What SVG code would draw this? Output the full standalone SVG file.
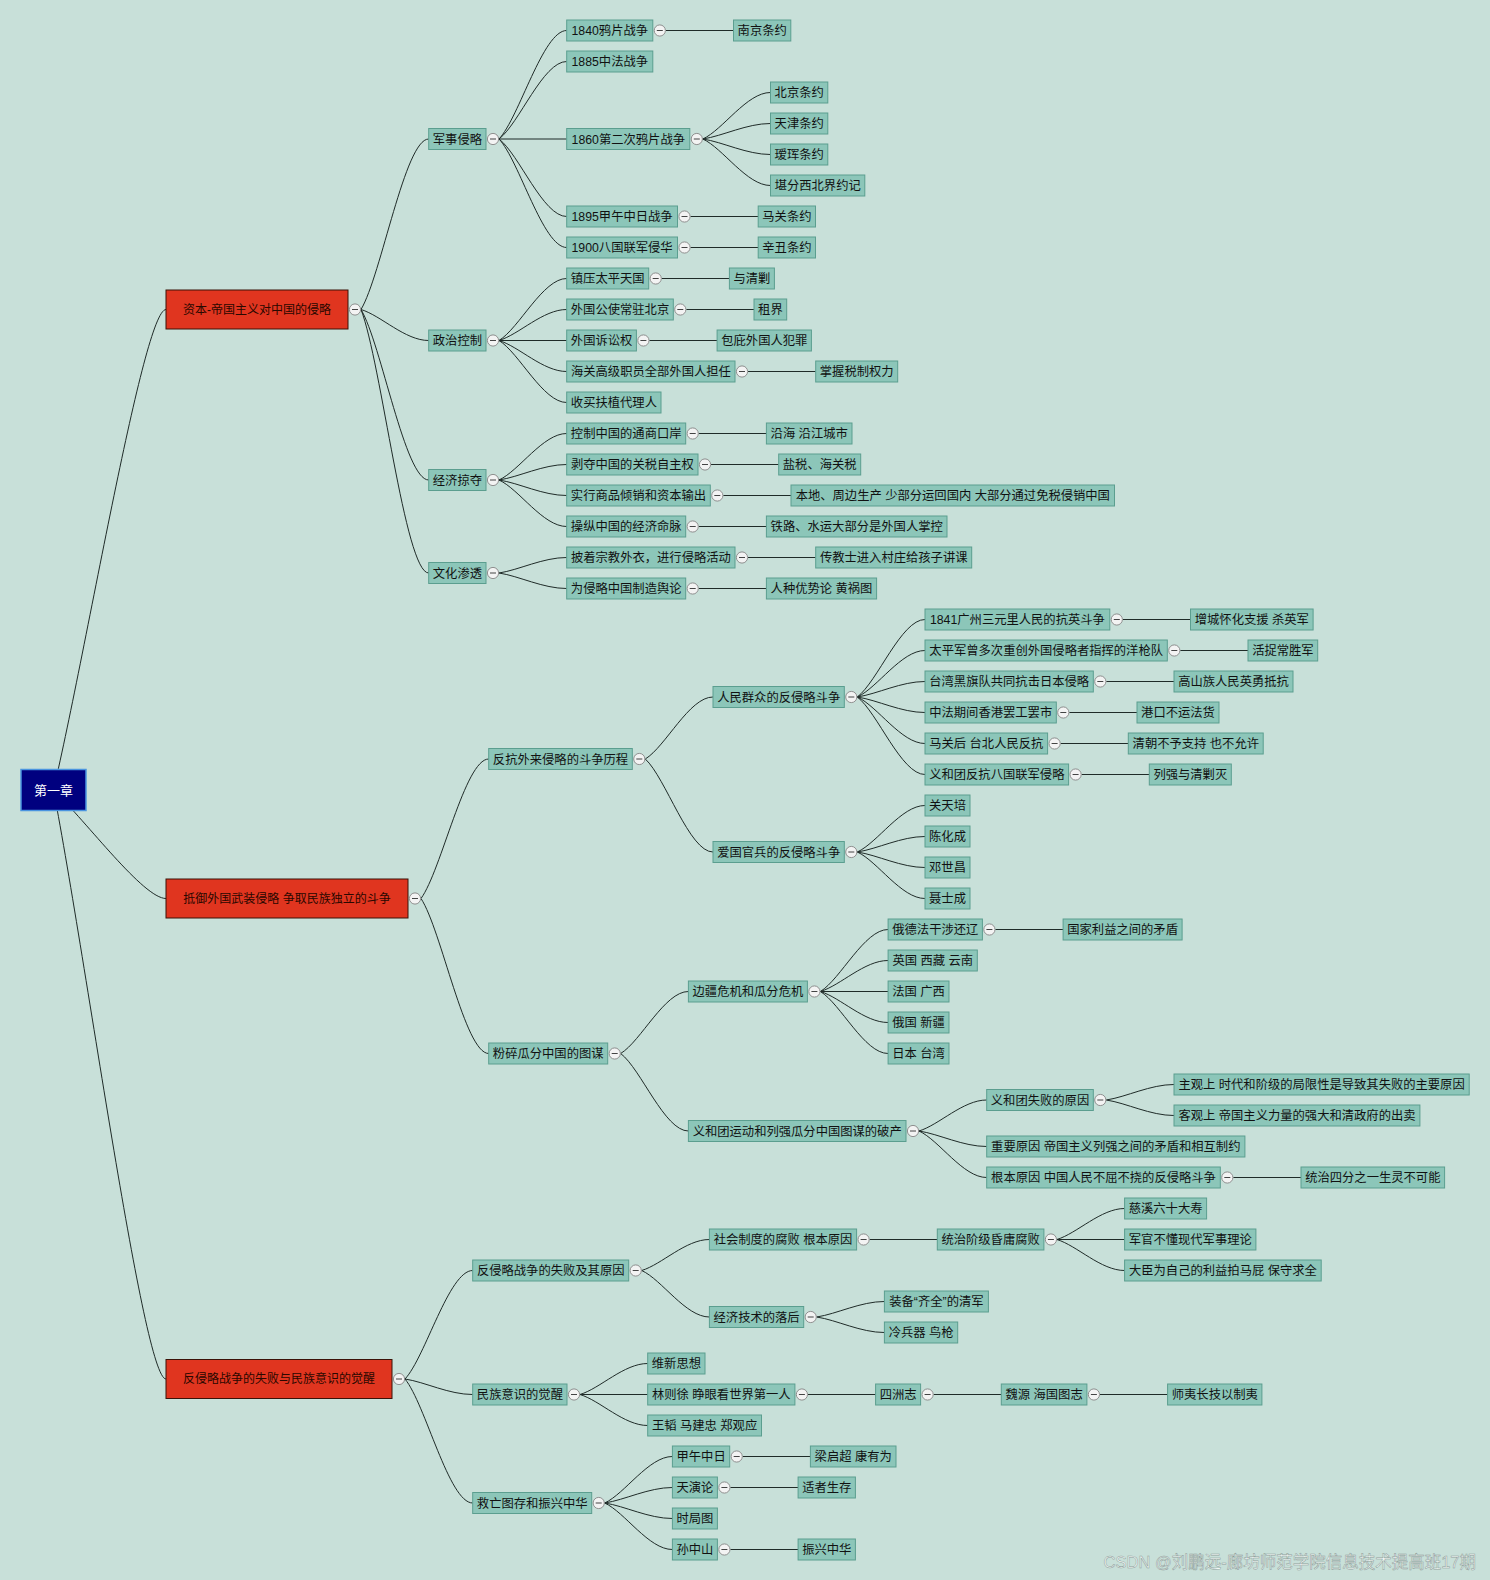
<svg xmlns="http://www.w3.org/2000/svg" xmlns:xlink="http://www.w3.org/1999/xlink" width="1490" height="1580" viewBox="0 0 1490 1580">
<style>
text{font-family:"Liberation Sans","Noto Sans CJK SC",sans-serif}
.nd rect{fill:#8cc6b9;stroke:#5b9e8f;stroke-width:1}
.nd text{font-size:12.3px;fill:#111;text-anchor:middle}
.mn rect{fill:#e0351f;stroke:#3b1208;stroke-width:1}
.mn text{font-size:12px;fill:#2a0800;text-anchor:middle}
.cn path{fill:none;stroke:#1f2b28;stroke-width:1}
</style>
<defs>
<g id="col"><circle r="5.6" fill="#f3f3f3" stroke="#8f8f8f" stroke-width="1"/><path d="M-3 0H3" stroke="#444" stroke-width="1"/></g>
</defs>
<rect width="1490" height="1580" fill="#c8e0d9"/>
<g id="connectors" class="cn">
<path d="M53.5,790 C87.3,645.8 143.5,309.5 166,309.5"/>
<path d="M53.5,790 C87.3,822.6 143.5,898.5 166,898.5"/>
<path d="M53.5,790 C87.3,966.7 143.5,1379 166,1379"/>
<path d="M361,309.5 C381.3,275.4 405,139 428.7,139"/>
<path d="M361,309.5 C381.3,315.7 405,340.5 428.7,340.5"/>
<path d="M361,309.5 C381.3,343.6 405,480 428.7,480"/>
<path d="M361,309.5 C381.3,362.2 405,573 428.7,573"/>
<path d="M499,139 C519.3,117.3 543,30.5 566.7,30.5"/>
<path d="M499,139 C519.3,123.5 543,61.5 566.7,61.5"/>
<path d="M499,139 H566.7"/>
<path d="M499,139 C519.3,154.5 543,216.5 566.7,216.5"/>
<path d="M499,139 C519.3,160.7 543,247.5 566.7,247.5"/>
<path d="M665.8,30.5 H733.5"/>
<path d="M702.8,139 C723.1,129.7 746.8,92.5 770.5,92.5"/>
<path d="M702.8,139 C723.1,135.9 746.8,123.5 770.5,123.5"/>
<path d="M702.8,139 C723.1,142.1 746.8,154.5 770.5,154.5"/>
<path d="M702.8,139 C723.1,148.3 746.8,185.5 770.5,185.5"/>
<path d="M690.5,216.5 H758.2"/>
<path d="M690.5,247.5 H758.2"/>
<path d="M499,340.5 C519.3,328.1 543,278.5 566.7,278.5"/>
<path d="M499,340.5 C519.3,334.3 543,309.5 566.7,309.5"/>
<path d="M499,340.5 H566.7"/>
<path d="M499,340.5 C519.3,346.7 543,371.5 566.7,371.5"/>
<path d="M499,340.5 C519.3,352.9 543,402.5 566.7,402.5"/>
<path d="M661.7,278.5 H729.4"/>
<path d="M686.3,309.5 H754"/>
<path d="M649.4,340.5 H717.1"/>
<path d="M748,371.5 H815.7"/>
<path d="M499,480 C519.3,470.7 543,433.5 566.7,433.5"/>
<path d="M499,480 C519.3,476.9 543,464.5 566.7,464.5"/>
<path d="M499,480 C519.3,483.1 543,495.5 566.7,495.5"/>
<path d="M499,480 C519.3,489.3 543,526.5 566.7,526.5"/>
<path d="M698.7,433.5 H766.4"/>
<path d="M711,464.5 H778.7"/>
<path d="M723.3,495.5 H791"/>
<path d="M698.7,526.5 H766.4"/>
<path d="M499,573 C519.3,569.9 543,557.5 566.7,557.5"/>
<path d="M499,573 C519.3,576.1 543,588.5 566.7,588.5"/>
<path d="M748,557.5 H815.7"/>
<path d="M698.7,588.5 H766.4"/>
<path d="M421,898.5 C441.3,870.6 465,759 488.7,759"/>
<path d="M421,898.5 C441.3,929.5 465,1053.5 488.7,1053.5"/>
<path d="M645.3,759 C665.6,746.6 689.3,697 713,697"/>
<path d="M645.3,759 C665.6,777.6 689.3,852 713,852"/>
<path d="M857.3,697 C877.6,681.5 901.3,619.5 925,619.5"/>
<path d="M857.3,697 C877.6,687.7 901.3,650.5 925,650.5"/>
<path d="M857.3,697 C877.6,693.9 901.3,681.5 925,681.5"/>
<path d="M857.3,697 C877.6,700.1 901.3,712.5 925,712.5"/>
<path d="M857.3,697 C877.6,706.3 901.3,743.5 925,743.5"/>
<path d="M857.3,697 C877.6,712.5 901.3,774.5 925,774.5"/>
<path d="M1122.8,619.5 H1190.5"/>
<path d="M1180.3,650.5 H1248"/>
<path d="M1106.3,681.5 H1174"/>
<path d="M1069.3,712.5 H1137"/>
<path d="M1060.6,743.5 H1128.3"/>
<path d="M1081.6,774.5 H1149.3"/>
<path d="M857.3,852 C877.6,842.7 901.3,805.5 925,805.5"/>
<path d="M857.3,852 C877.6,848.9 901.3,836.5 925,836.5"/>
<path d="M857.3,852 C877.6,855.1 901.3,867.5 925,867.5"/>
<path d="M857.3,852 C877.6,861.3 901.3,898.5 925,898.5"/>
<path d="M620.7,1053.5 C641,1041.1 664.7,991.5 688.4,991.5"/>
<path d="M620.7,1053.5 C641,1069 664.7,1131 688.4,1131"/>
<path d="M820.4,991.5 C840.7,979.1 864.4,929.5 888.1,929.5"/>
<path d="M820.4,991.5 C840.7,985.3 864.4,960.5 888.1,960.5"/>
<path d="M820.4,991.5 H888.1"/>
<path d="M820.4,991.5 C840.7,997.7 864.4,1022.5 888.1,1022.5"/>
<path d="M820.4,991.5 C840.7,1003.9 864.4,1053.5 888.1,1053.5"/>
<path d="M995.4,929.5 H1063.1"/>
<path d="M919,1131 C939.3,1124.8 963,1100 986.7,1100"/>
<path d="M919,1131 C939.3,1134.1 963,1146.5 986.7,1146.5"/>
<path d="M919,1131 C939.3,1140.3 963,1177.5 986.7,1177.5"/>
<path d="M1106.3,1100 C1126.6,1096.9 1150.3,1084.5 1174,1084.5"/>
<path d="M1106.3,1100 C1126.6,1103.1 1150.3,1115.5 1174,1115.5"/>
<path d="M1233.3,1177.5 H1301"/>
<path d="M405,1379 C425.3,1357.3 449,1270.5 472.7,1270.5"/>
<path d="M405,1379 C425.3,1382.1 449,1394.5 472.7,1394.5"/>
<path d="M405,1379 C425.3,1403.8 449,1503 472.7,1503"/>
<path d="M641.7,1270.5 C662,1264.3 685.7,1239.5 709.4,1239.5"/>
<path d="M641.7,1270.5 C662,1279.8 685.7,1317 709.4,1317"/>
<path d="M869.6,1239.5 H937.3"/>
<path d="M1056.9,1239.5 C1077.2,1233.3 1100.9,1208.5 1124.6,1208.5"/>
<path d="M1056.9,1239.5 H1124.6"/>
<path d="M1056.9,1239.5 C1077.2,1245.7 1100.9,1270.5 1124.6,1270.5"/>
<path d="M816.7,1317 C837,1313.9 860.7,1301.5 884.4,1301.5"/>
<path d="M816.7,1317 C837,1320.1 860.7,1332.5 884.4,1332.5"/>
<path d="M580,1394.5 C600.3,1388.3 624,1363.5 647.7,1363.5"/>
<path d="M580,1394.5 H647.7"/>
<path d="M580,1394.5 C600.3,1400.7 624,1425.5 647.7,1425.5"/>
<path d="M807.9,1394.5 H875.6"/>
<path d="M933.6,1394.5 H1001.3"/>
<path d="M1099.9,1394.5 H1167.6"/>
<path d="M604.7,1503 C625,1493.7 648.7,1456.5 672.4,1456.5"/>
<path d="M604.7,1503 C625,1499.9 648.7,1487.5 672.4,1487.5"/>
<path d="M604.7,1503 C625,1506.1 648.7,1518.5 672.4,1518.5"/>
<path d="M604.7,1503 C625,1512.3 648.7,1549.5 672.4,1549.5"/>
<path d="M742.7,1456.5 H810.4"/>
<path d="M730.4,1487.5 H798.1"/>
<path d="M730.4,1549.5 H798.1"/>
</g>
<g id="root"><rect x="21" y="769.5" width="65" height="41" fill="#00007f" stroke="#4a94e0" stroke-width="1.5"/><text x="53.5" y="794.5" font-size="13" fill="#fff" text-anchor="middle">第一章</text></g>
<g id="main1" class="mn"><rect x="166" y="290" width="182" height="39"/><text x="257" y="313.8">资本-帝国主义对中国的侵略</text><use href="#col" x="355" y="309.5"/></g>
<g id="main2" class="mn"><rect x="166" y="879" width="242" height="39"/><text x="287" y="902.8">抵御外国武装侵略 争取民族独立的斗争</text><use href="#col" x="415" y="898.5"/></g>
<g id="main3" class="mn"><rect x="166" y="1359.5" width="226" height="39"/><text x="279" y="1383.3">反侵略战争的失败与民族意识的觉醒</text><use href="#col" x="399" y="1379"/></g>
<g id="n1" class="nd"><rect x="428.7" y="128.5" width="57.3" height="21"/><text x="457.4" y="143.5">军事侵略</text><use href="#col" x="493" y="139"/></g>
<g id="n2" class="nd"><rect x="566.7" y="20" width="86.1" height="21"/><text x="609.8" y="35">1840鸦片战争</text><use href="#col" x="659.8" y="30.5"/></g>
<g id="n3" class="nd"><rect x="733.5" y="20" width="57.3" height="21"/><text x="762.2" y="35">南京条约</text></g>
<g id="n4" class="nd"><rect x="566.7" y="51" width="86.1" height="21"/><text x="609.8" y="66">1885中法战争</text></g>
<g id="n5" class="nd"><rect x="566.7" y="128.5" width="123.1" height="21"/><text x="628.3" y="143.5">1860第二次鸦片战争</text><use href="#col" x="696.8" y="139"/></g>
<g id="n6" class="nd"><rect x="770.5" y="82" width="57.3" height="21"/><text x="799.2" y="97">北京条约</text></g>
<g id="n7" class="nd"><rect x="770.5" y="113" width="57.3" height="21"/><text x="799.2" y="128">天津条约</text></g>
<g id="n8" class="nd"><rect x="770.5" y="144" width="57.3" height="21"/><text x="799.2" y="159">瑷珲条约</text></g>
<g id="n9" class="nd"><rect x="770.5" y="175" width="94.3" height="21"/><text x="817.7" y="190">堪分西北界约记</text></g>
<g id="n10" class="nd"><rect x="566.7" y="206" width="110.8" height="21"/><text x="622.1" y="221">1895甲午中日战争</text><use href="#col" x="684.5" y="216.5"/></g>
<g id="n11" class="nd"><rect x="758.2" y="206" width="57.3" height="21"/><text x="786.9" y="221">马关条约</text></g>
<g id="n12" class="nd"><rect x="566.7" y="237" width="110.8" height="21"/><text x="622.1" y="252">1900八国联军侵华</text><use href="#col" x="684.5" y="247.5"/></g>
<g id="n13" class="nd"><rect x="758.2" y="237" width="57.3" height="21"/><text x="786.9" y="252">辛丑条约</text></g>
<g id="n14" class="nd"><rect x="428.7" y="330" width="57.3" height="21"/><text x="457.4" y="345">政治控制</text><use href="#col" x="493" y="340.5"/></g>
<g id="n15" class="nd"><rect x="566.7" y="268" width="82" height="21"/><text x="607.7" y="283">镇压太平天国</text><use href="#col" x="655.7" y="278.5"/></g>
<g id="n16" class="nd"><rect x="729.4" y="268" width="45" height="21"/><text x="751.9" y="283">与清剿</text></g>
<g id="n17" class="nd"><rect x="566.7" y="299" width="106.6" height="21"/><text x="620" y="314">外国公使常驻北京</text><use href="#col" x="680.3" y="309.5"/></g>
<g id="n18" class="nd"><rect x="754" y="299" width="32.7" height="21"/><text x="770.4" y="314">租界</text></g>
<g id="n19" class="nd"><rect x="566.7" y="330" width="69.7" height="21"/><text x="601.6" y="345">外国诉讼权</text><use href="#col" x="643.4" y="340.5"/></g>
<g id="n20" class="nd"><rect x="717.1" y="330" width="94.3" height="21"/><text x="764.3" y="345">包庇外国人犯罪</text></g>
<g id="n21" class="nd"><rect x="566.7" y="361" width="168.3" height="21"/><text x="650.9" y="376">海关高级职员全部外国人担任</text><use href="#col" x="742" y="371.5"/></g>
<g id="n22" class="nd"><rect x="815.7" y="361" width="82" height="21"/><text x="856.7" y="376">掌握税制权力</text></g>
<g id="n23" class="nd"><rect x="566.7" y="392" width="94.3" height="21"/><text x="613.9" y="407">收买扶植代理人</text></g>
<g id="n24" class="nd"><rect x="428.7" y="469.5" width="57.3" height="21"/><text x="457.4" y="484.5">经济掠夺</text><use href="#col" x="493" y="480"/></g>
<g id="n25" class="nd"><rect x="566.7" y="423" width="119" height="21"/><text x="626.2" y="438">控制中国的通商口岸</text><use href="#col" x="692.7" y="433.5"/></g>
<g id="n26" class="nd"><rect x="766.4" y="423" width="85.6" height="21"/><text x="809.2" y="438">沿海 沿江城市</text></g>
<g id="n27" class="nd"><rect x="566.7" y="454" width="131.3" height="21"/><text x="632.4" y="469">剥夺中国的关税自主权</text><use href="#col" x="705" y="464.5"/></g>
<g id="n28" class="nd"><rect x="778.7" y="454" width="82" height="21"/><text x="819.7" y="469">盐税、海关税</text></g>
<g id="n29" class="nd"><rect x="566.7" y="485" width="143.6" height="21"/><text x="638.5" y="500">实行商品倾销和资本输出</text><use href="#col" x="717.3" y="495.5"/></g>
<g id="n30" class="nd"><rect x="791" y="485" width="323.5" height="21"/><text x="952.8" y="500">本地、周边生产 少部分运回国内 大部分通过免税侵销中国</text></g>
<g id="n31" class="nd"><rect x="566.7" y="516" width="119" height="21"/><text x="626.2" y="531">操纵中国的经济命脉</text><use href="#col" x="692.7" y="526.5"/></g>
<g id="n32" class="nd"><rect x="766.4" y="516" width="180.6" height="21"/><text x="856.7" y="531">铁路、水运大部分是外国人掌控</text></g>
<g id="n33" class="nd"><rect x="428.7" y="562.5" width="57.3" height="21"/><text x="457.4" y="577.5">文化渗透</text><use href="#col" x="493" y="573"/></g>
<g id="n34" class="nd"><rect x="566.7" y="547" width="168.3" height="21"/><text x="650.9" y="562">披着宗教外衣，进行侵略活动</text><use href="#col" x="742" y="557.5"/></g>
<g id="n35" class="nd"><rect x="815.7" y="547" width="156" height="21"/><text x="893.7" y="562">传教士进入村庄给孩子讲课</text></g>
<g id="n36" class="nd"><rect x="566.7" y="578" width="119" height="21"/><text x="626.2" y="593">为侵略中国制造舆论</text><use href="#col" x="692.7" y="588.5"/></g>
<g id="n37" class="nd"><rect x="766.4" y="578" width="110.2" height="21"/><text x="821.5" y="593">人种优势论 黄祸图</text></g>
<g id="n38" class="nd"><rect x="488.7" y="748.5" width="143.6" height="21"/><text x="560.5" y="763.5">反抗外来侵略的斗争历程</text><use href="#col" x="639.3" y="759"/></g>
<g id="n39" class="nd"><rect x="713" y="686.5" width="131.3" height="21"/><text x="778.7" y="701.5">人民群众的反侵略斗争</text><use href="#col" x="851.3" y="697"/></g>
<g id="n40" class="nd"><rect x="925" y="609" width="184.8" height="21"/><text x="1017.4" y="624">1841广州三元里人民的抗英斗争</text><use href="#col" x="1116.8" y="619.5"/></g>
<g id="n41" class="nd"><rect x="1190.5" y="609" width="122.6" height="21"/><text x="1251.8" y="624">增城怀化支援 杀英军</text></g>
<g id="n42" class="nd"><rect x="925" y="640" width="242.3" height="21"/><text x="1046.2" y="655">太平军曾多次重创外国侵略者指挥的洋枪队</text><use href="#col" x="1174.3" y="650.5"/></g>
<g id="n43" class="nd"><rect x="1248" y="640" width="69.7" height="21"/><text x="1282.9" y="655">活捉常胜军</text></g>
<g id="n44" class="nd"><rect x="925" y="671" width="168.3" height="21"/><text x="1009.2" y="686">台湾黑旗队共同抗击日本侵略</text><use href="#col" x="1100.3" y="681.5"/></g>
<g id="n45" class="nd"><rect x="1174" y="671" width="119" height="21"/><text x="1233.5" y="686">高山族人民英勇抵抗</text></g>
<g id="n46" class="nd"><rect x="925" y="702" width="131.3" height="21"/><text x="990.7" y="717">中法期间香港罢工罢市</text><use href="#col" x="1063.3" y="712.5"/></g>
<g id="n47" class="nd"><rect x="1137" y="702" width="82" height="21"/><text x="1178" y="717">港口不运法货</text></g>
<g id="n48" class="nd"><rect x="925" y="733" width="122.6" height="21"/><text x="986.3" y="748">马关后 台北人民反抗</text><use href="#col" x="1054.6" y="743.5"/></g>
<g id="n49" class="nd"><rect x="1128.3" y="733" width="134.9" height="21"/><text x="1195.8" y="748">清朝不予支持 也不允许</text></g>
<g id="n50" class="nd"><rect x="925" y="764" width="143.6" height="21"/><text x="996.8" y="779">义和团反抗八国联军侵略</text><use href="#col" x="1075.6" y="774.5"/></g>
<g id="n51" class="nd"><rect x="1149.3" y="764" width="82" height="21"/><text x="1190.3" y="779">列强与清剿灭</text></g>
<g id="n52" class="nd"><rect x="713" y="841.5" width="131.3" height="21"/><text x="778.7" y="856.5">爱国官兵的反侵略斗争</text><use href="#col" x="851.3" y="852"/></g>
<g id="n53" class="nd"><rect x="925" y="795" width="45" height="21"/><text x="947.5" y="810">关天培</text></g>
<g id="n54" class="nd"><rect x="925" y="826" width="45" height="21"/><text x="947.5" y="841">陈化成</text></g>
<g id="n55" class="nd"><rect x="925" y="857" width="45" height="21"/><text x="947.5" y="872">邓世昌</text></g>
<g id="n56" class="nd"><rect x="925" y="888" width="45" height="21"/><text x="947.5" y="903">聂士成</text></g>
<g id="n57" class="nd"><rect x="488.7" y="1043" width="119" height="21"/><text x="548.2" y="1058">粉碎瓜分中国的图谋</text><use href="#col" x="614.7" y="1053.5"/></g>
<g id="n58" class="nd"><rect x="688.4" y="981" width="119" height="21"/><text x="747.9" y="996">边疆危机和瓜分危机</text><use href="#col" x="814.4" y="991.5"/></g>
<g id="n59" class="nd"><rect x="888.1" y="919" width="94.3" height="21"/><text x="935.3" y="934">俄德法干涉还辽</text><use href="#col" x="989.4" y="929.5"/></g>
<g id="n60" class="nd"><rect x="1063.1" y="919" width="119" height="21"/><text x="1122.6" y="934">国家利益之间的矛盾</text></g>
<g id="n61" class="nd"><rect x="888.1" y="950" width="89.2" height="21"/><text x="932.7" y="965">英国 西藏 云南</text></g>
<g id="n62" class="nd"><rect x="888.1" y="981" width="60.9" height="21"/><text x="918.6" y="996">法国 广西</text></g>
<g id="n63" class="nd"><rect x="888.1" y="1012" width="60.9" height="21"/><text x="918.6" y="1027">俄国 新疆</text></g>
<g id="n64" class="nd"><rect x="888.1" y="1043" width="60.9" height="21"/><text x="918.6" y="1058">日本 台湾</text></g>
<g id="n65" class="nd"><rect x="688.4" y="1120.5" width="217.6" height="21"/><text x="797.2" y="1135.5">义和团运动和列强瓜分中国图谋的破产</text><use href="#col" x="913" y="1131"/></g>
<g id="n66" class="nd"><rect x="986.7" y="1089.5" width="106.6" height="21"/><text x="1040" y="1104.5">义和团失败的原因</text><use href="#col" x="1100.3" y="1100"/></g>
<g id="n67" class="nd"><rect x="1174" y="1074" width="295.2" height="21"/><text x="1321.6" y="1089">主观上 时代和阶级的局限性是导致其失败的主要原因</text></g>
<g id="n68" class="nd"><rect x="1174" y="1105" width="245.9" height="21"/><text x="1297" y="1120">客观上 帝国主义力量的强大和清政府的出卖</text></g>
<g id="n69" class="nd"><rect x="986.7" y="1136" width="258.2" height="21"/><text x="1115.8" y="1151">重要原因 帝国主义列强之间的矛盾和相互制约</text></g>
<g id="n70" class="nd"><rect x="986.7" y="1167" width="233.6" height="21"/><text x="1103.5" y="1182">根本原因 中国人民不屈不挠的反侵略斗争</text><use href="#col" x="1227.3" y="1177.5"/></g>
<g id="n71" class="nd"><rect x="1301" y="1167" width="143.6" height="21"/><text x="1372.8" y="1182">统治四分之一生灵不可能</text></g>
<g id="n72" class="nd"><rect x="472.7" y="1260" width="156" height="21"/><text x="550.7" y="1275">反侵略战争的失败及其原因</text><use href="#col" x="635.7" y="1270.5"/></g>
<g id="n73" class="nd"><rect x="709.4" y="1229" width="147.2" height="21"/><text x="783" y="1244">社会制度的腐败 根本原因</text><use href="#col" x="863.6" y="1239.5"/></g>
<g id="n74" class="nd"><rect x="937.3" y="1229" width="106.6" height="21"/><text x="990.6" y="1244">统治阶级昏庸腐败</text><use href="#col" x="1050.9" y="1239.5"/></g>
<g id="n75" class="nd"><rect x="1124.6" y="1198" width="82" height="21"/><text x="1165.6" y="1213">慈溪六十大寿</text></g>
<g id="n76" class="nd"><rect x="1124.6" y="1229" width="131.3" height="21"/><text x="1190.3" y="1244">军官不懂现代军事理论</text></g>
<g id="n77" class="nd"><rect x="1124.6" y="1260" width="196.6" height="21"/><text x="1222.9" y="1275">大臣为自己的利益拍马屁 保守求全</text></g>
<g id="n78" class="nd"><rect x="709.4" y="1306.5" width="94.3" height="21"/><text x="756.6" y="1321.5">经济技术的落后</text><use href="#col" x="810.7" y="1317"/></g>
<g id="n79" class="nd"><rect x="884.4" y="1291" width="104" height="21"/><text x="936.4" y="1306">装备“齐全”的清军</text></g>
<g id="n80" class="nd"><rect x="884.4" y="1322" width="73.3" height="21"/><text x="921.1" y="1337">冷兵器 鸟枪</text></g>
<g id="n81" class="nd"><rect x="472.7" y="1384" width="94.3" height="21"/><text x="519.9" y="1399">民族意识的觉醒</text><use href="#col" x="574" y="1394.5"/></g>
<g id="n82" class="nd"><rect x="647.7" y="1353" width="57.3" height="21"/><text x="676.4" y="1368">维新思想</text></g>
<g id="n83" class="nd"><rect x="647.7" y="1384" width="147.2" height="21"/><text x="721.3" y="1399">林则徐 睁眼看世界第一人</text><use href="#col" x="801.9" y="1394.5"/></g>
<g id="n84" class="nd"><rect x="875.6" y="1384" width="45" height="21"/><text x="898.1" y="1399">四洲志</text><use href="#col" x="927.6" y="1394.5"/></g>
<g id="n85" class="nd"><rect x="1001.3" y="1384" width="85.6" height="21"/><text x="1044.1" y="1399">魏源 海国图志</text><use href="#col" x="1093.9" y="1394.5"/></g>
<g id="n86" class="nd"><rect x="1167.6" y="1384" width="94.3" height="21"/><text x="1214.8" y="1399">师夷长技以制夷</text></g>
<g id="n87" class="nd"><rect x="647.7" y="1415" width="113.8" height="21"/><text x="704.6" y="1430">王韬 马建忠 郑观应</text></g>
<g id="n88" class="nd"><rect x="472.7" y="1492.5" width="119" height="21"/><text x="532.2" y="1507.5">救亡图存和振兴中华</text><use href="#col" x="598.7" y="1503"/></g>
<g id="n89" class="nd"><rect x="672.4" y="1446" width="57.3" height="21"/><text x="701.1" y="1461">甲午中日</text><use href="#col" x="736.7" y="1456.5"/></g>
<g id="n90" class="nd"><rect x="810.4" y="1446" width="85.6" height="21"/><text x="853.2" y="1461">梁启超 康有为</text></g>
<g id="n91" class="nd"><rect x="672.4" y="1477" width="45" height="21"/><text x="694.9" y="1492">天演论</text><use href="#col" x="724.4" y="1487.5"/></g>
<g id="n92" class="nd"><rect x="798.1" y="1477" width="57.3" height="21"/><text x="826.8" y="1492">适者生存</text></g>
<g id="n93" class="nd"><rect x="672.4" y="1508" width="45" height="21"/><text x="694.9" y="1523">时局图</text></g>
<g id="n94" class="nd"><rect x="672.4" y="1539" width="45" height="21"/><text x="694.9" y="1554">孙中山</text><use href="#col" x="724.4" y="1549.5"/></g>
<g id="n95" class="nd"><rect x="798.1" y="1539" width="57.3" height="21"/><text x="826.8" y="1554">振兴中华</text></g>
<text x="1476" y="1568" font-size="16.5" text-anchor="end" fill="#ffffff" fill-opacity="0.75" stroke="#8c9c98" stroke-width="0.5">CSDN @刘鹏远-廊坊师范学院信息技术提高班17期</text>
</svg>
